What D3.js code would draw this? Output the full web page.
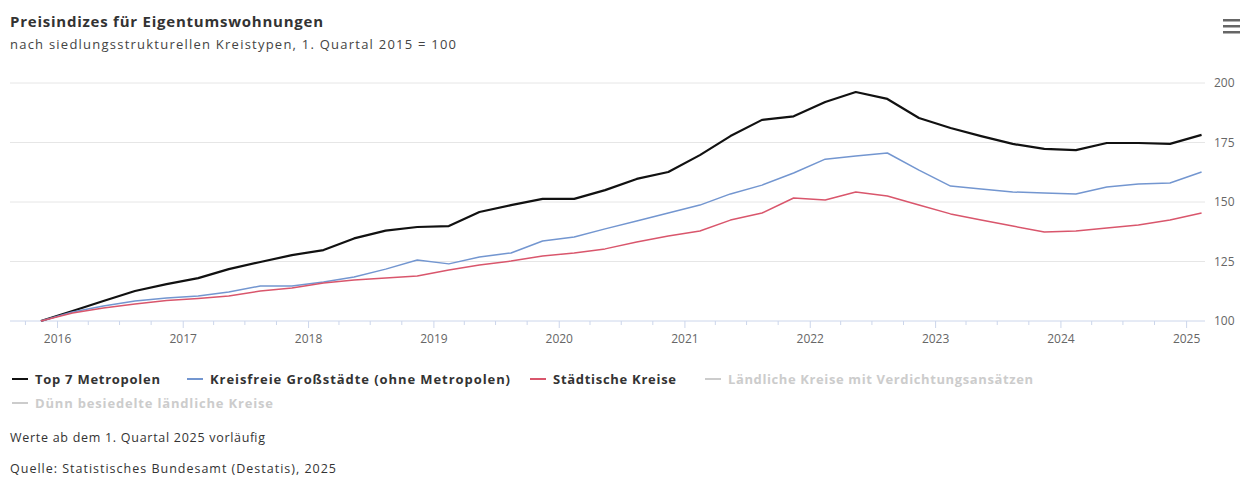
<!DOCTYPE html>
<html>
<head>
<meta charset="utf-8">
<script src="https://cdn.jsdelivr.net/npm/d3@7"></script>
<style>
  body { margin: 0; background: #fff; }
  svg { font-family: "Open Sans", sans-serif; }
</style>
</head>
<body>
<svg id="chart" width="1254" height="480"></svg>
<script>
// quarters 2015 Q4 .. 2025 Q1
var quarters = ["2015-Q4",
    "2016-Q1", "2016-Q2", "2016-Q3", "2016-Q4",
    "2017-Q1", "2017-Q2", "2017-Q3", "2017-Q4",
    "2018-Q1", "2018-Q2", "2018-Q3", "2018-Q4",
    "2019-Q1", "2019-Q2", "2019-Q3", "2019-Q4",
    "2020-Q1", "2020-Q2", "2020-Q3", "2020-Q4",
    "2021-Q1", "2021-Q2", "2021-Q3", "2021-Q4",
    "2022-Q1", "2022-Q2", "2022-Q3", "2022-Q4",
    "2023-Q1", "2023-Q2", "2023-Q3", "2023-Q4",
    "2024-Q1", "2024-Q2", "2024-Q3", "2024-Q4",
    "2025-Q1"];

var top7 = [100, 104.2, 108.4, 112.6, 115.5, 118, 121.8, 124.8, 127.7, 129.8,
    134.7, 138, 139.5, 139.9, 145.8, 148.7, 151.3, 151.3, 155, 159.7,
    162.6, 169.7, 177.7, 184.5, 186, 192, 196.2, 193.3, 185.3, 181.1,
    177.7, 174.4, 172.3, 171.8, 174.8, 174.8, 174.4, 178.2];
var grossstaedte = [100, 103.8, 106.3, 108.4, 109.7, 110.5, 112.2, 114.7, 114.7, 116.4,
    118.5, 121.8, 125.6, 124, 126.9, 128.6, 133.6, 135.3, 138.7, 142,
    145.4, 148.7, 153.4, 157.1, 162.2, 168, 169.3, 170.6, 163.4, 156.7,
    155.5, 154.2, 153.8, 153.4, 156.3, 157.6, 158, 162.6];
var staedtKreise = [100, 103.4, 105.5, 107.1, 108.6, 109.5, 110.5, 112.6, 113.9, 116,
    117.2, 118.1, 118.9, 121.4, 123.5, 125.2, 127.3, 128.6, 130.3, 133.2,
    135.7, 137.8, 142.4, 145.4, 151.7, 150.8, 154.2, 152.5, 148.7, 145,
    142.4, 139.9, 137.4, 137.8, 139.1, 140.3, 142.4, 145.4];

var seriesNames = ["Top 7 Metropolen", "Kreisfreie Großstädte (ohne Metropolen)", "Städtische Kreise",
    "Ländliche Kreise mit Verdichtungsansätzen", "Dünn besiedelte ländliche Kreise"];
var seriesColors = ["#111111", "#7396d0", "#d9566c", "#cccccc", "#cccccc"];
var yTicks = [100, 125, 150, 175, 200];
var yearTicks = [2016, 2017, 2018, 2019, 2020, 2021, 2022, 2023, 2024, 2025];

// quarter label -> mid-quarter date
function quarterDate(s) {
    var yy = +s.slice(0, 4), qq = +s.slice(6);
    return new Date(yy, (qq - 1) * 3 + 1, 15);
}

var svg = d3.select("#chart");

var x = d3.scaleTime()
    .domain([new Date(2015, 7, 17), new Date(2025, 1, 25)])
    .range([10, 1205]);
var yScale = d3.scaleLinear().domain([100, 200]).range([321, 83]);

// title
svg.append("text").attr("x", 10).attr("y", 27)
    .attr("textLength", 313).attr("lengthAdjust", "spacing")
    .style("font-size", "15px").style("font-weight", "bold").style("fill", "#333")
    .text("Preisindizes für Eigentumswohnungen");
svg.append("text").attr("x", 10).attr("y", 49)
    .attr("textLength", 446).attr("lengthAdjust", "spacing")
    .style("font-size", "13px").style("fill", "#444")
    .text("nach siedlungsstrukturellen Kreistypen, 1. Quartal 2015 = 100");

// menu icon
[20, 26, 32].forEach(function(yy) {
    svg.append("rect").attr("x", 1223).attr("y", yy - 1).attr("width", 17).attr("height", 2.5)
        .style("fill", "#666");
});

// gridlines
svg.append("g").selectAll("line")
    .data(yTicks.slice(1))
    .enter().append("line")
    .attr("x1", 10).attr("x2", 1205)
    .attr("y1", function(d) { return yScale(d); })
    .attr("y2", function(d) { return yScale(d); })
    .style("stroke", "#e6e6e6").style("stroke-width", 1);

// y labels (right)
svg.append("g").selectAll("text")
    .data(yTicks)
    .enter().append("text")
    .attr("x", 1214)
    .attr("y", function(d) { return yScale(d) + 4; })
    .style("font-size", "12px").style("fill", "#666")
    .text(function(d) { return d; });

// x axis
var minorTicks = d3.timeMonth.every(3).range(new Date(2015, 8, 1), new Date(2025, 1, 26))
    .filter(function(d) { return d.getMonth() != 0; });
var xg = svg.append("g").attr("transform", "translate(0,321)");
xg.append("line").attr("x1", 10).attr("x2", 1205).style("stroke", "#ccd6eb");
xg.selectAll(".minor").data(minorTicks).enter().append("line")
    .attr("x1", function(d) { return x(d); }).attr("x2", function(d) { return x(d); })
    .attr("y1", 0).attr("y2", 4).style("stroke", "#ccd6eb");
var majorAxis = d3.axisBottom(x)
    .tickValues(yearTicks.map(function(yy) { return new Date(yy, 0, 1); }))
    .tickFormat(d3.timeFormat("%Y"))
    .tickSize(7).tickPadding(6);
var ax = xg.append("g").call(majorAxis);
ax.select(".domain").remove();
ax.selectAll(".tick line").style("stroke", "#ccd6eb");
ax.selectAll(".tick text").style("font-size", "12px").style("fill", "#666")
    .style("font-family", "Open Sans, sans-serif");

// lines
var line = d3.line()
    .x(function(d, i) { return x(quarterDate(quarters[i])); })
    .y(function(d) { return yScale(d); });

var plotted = [top7, grossstaedte, staedtKreise];
var widths = [2.2, 1.5, 1.5];
plotted.forEach(function(vals, k) {
    svg.append("path")
        .datum(vals)
        .attr("d", line)
        .style("fill", "none")
        .style("stroke", seriesColors[k])
        .style("stroke-width", widths[k])
        .style("stroke-linejoin", "round");
});

// legend
var legendPos = [[12, 379], [187, 379], [530, 379], [705, 379], [12, 403]];
var legendTextLen = [125, 300, 123, 305, 238];
seriesNames.forEach(function(name, k) {
    var g = svg.append("g").attr("transform", "translate(" + legendPos[k][0] + "," + legendPos[k][1] + ")");
    g.append("line").attr("x1", 0).attr("x2", 16).attr("y1", 0).attr("y2", 0)
        .style("stroke", seriesColors[k]).style("stroke-width", 2);
    g.append("text").attr("x", 23).attr("y", 4.5)
        .attr("textLength", legendTextLen[k]).attr("lengthAdjust", "spacing")
        .style("font-size", "13px").style("font-weight", "bold")
        .style("fill", k < 3 ? "#333" : "#cccccc")
        .text(name);
});

// notes
svg.append("text").attr("x", 10).attr("y", 442)
    .attr("textLength", 255).attr("lengthAdjust", "spacing")
    .style("font-size", "12.5px").style("fill", "#333")
    .text("Werte ab dem 1. Quartal 2025 vorläufig");
svg.append("text").attr("x", 10).attr("y", 473)
    .attr("textLength", 326).attr("lengthAdjust", "spacing")
    .style("font-size", "12.5px").style("fill", "#333")
    .text("Quelle: Statistisches Bundesamt (Destatis), 2025");
</script>
</body>
</html>
